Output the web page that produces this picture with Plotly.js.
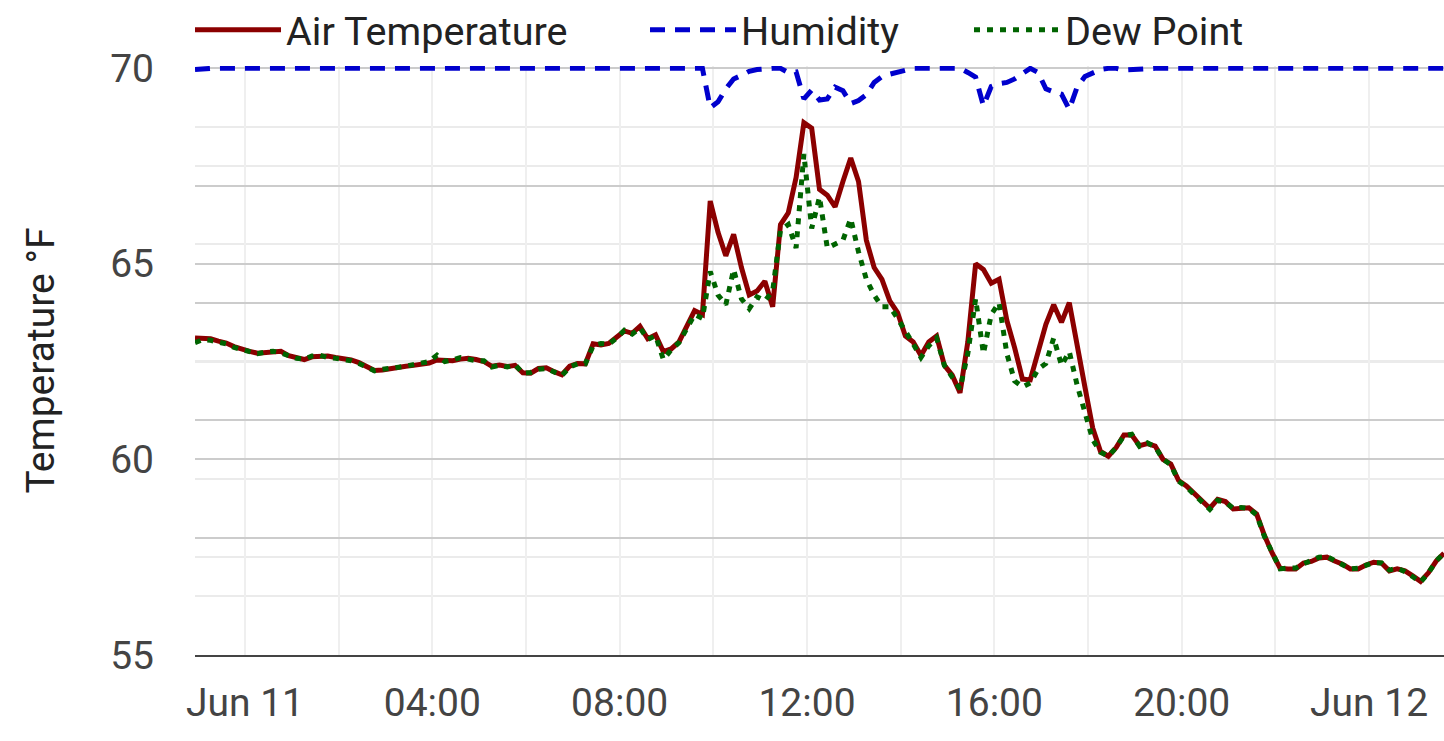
<!DOCTYPE html>
<html><head><meta charset="utf-8">
<script src="https://cdn.plot.ly/plotly-3.0.1.min.js"></script>
<style>html,body{margin:0;padding:0;background:#fff}#chart{width:1444px;height:741px}</style>
</head><body><div id="chart"></div>
<script>
const startTime = '2024-06-10T22:56:00Z';
const stepMinutes = 10;
const xRange = ['2024-06-10 22:56:00', '2024-06-12 01:36:00'];

const airTemp = [63.10,63.10,63.08,63.02,62.97,62.88,62.81,62.76,62.71,62.72,
 62.73,62.76,62.65,62.60,62.55,62.62,62.64,62.64,62.60,62.58,
 62.54,62.47,62.38,62.27,62.28,62.32,62.36,62.38,62.40,62.42,
 62.46,62.54,62.52,62.52,62.56,62.58,62.55,62.50,62.38,62.41,
 62.37,62.40,62.21,62.20,62.32,62.34,62.24,62.16,62.38,62.45,
 62.44,62.95,62.92,62.96,63.12,63.28,63.22,63.40,63.08,63.18,
 62.75,62.82,63.00,63.38,63.80,63.70,66.60,65.80,65.20,65.75,
 64.90,64.20,64.30,64.55,63.90,66.00,66.30,67.20,68.60,68.46,
 66.90,66.75,66.45,67.10,67.70,67.10,65.60,64.90,64.60,64.05,
 63.75,63.15,63.00,62.65,63.00,63.15,62.40,62.15,61.70,63.00,
 65.00,64.85,64.50,64.60,63.55,62.85,62.05,62.03,62.75,63.45,
 63.95,63.50,64.00,63.00,61.85,60.80,60.20,60.08,60.30,60.62,
 60.62,60.35,60.40,60.34,60.00,59.88,59.46,59.32,59.12,58.92,
 58.75,58.98,58.92,58.73,58.75,58.76,58.60,58.05,57.60,57.22,
 57.20,57.20,57.35,57.39,57.48,57.50,57.40,57.32,57.20,57.20,
 57.30,57.37,57.35,57.15,57.20,57.15,57.02,56.88,57.10,57.40,57.60];

const dewPoint = [62.98,63.06,63.04,63.00,62.95,62.86,62.80,62.74,62.70,62.74,
 62.76,62.72,62.64,62.58,62.56,62.64,62.66,62.60,62.58,62.56,
 62.52,62.45,62.36,62.26,62.30,62.34,62.35,62.38,62.42,62.44,
 62.50,62.66,62.50,62.54,62.60,62.56,62.52,62.52,62.36,62.40,
 62.36,62.42,62.20,62.22,62.30,62.32,62.22,62.14,62.36,62.44,
 62.44,62.90,62.96,62.94,63.10,63.30,63.20,63.36,63.06,63.16,
 62.55,62.80,62.98,63.34,63.70,63.60,64.80,64.20,63.95,64.85,
 64.10,63.85,64.15,64.05,64.30,65.85,66.00,65.40,67.80,65.90,
 66.70,65.40,65.50,65.60,66.15,65.30,64.60,64.20,63.90,63.90,
 63.60,63.30,62.95,62.60,62.90,63.10,62.40,62.10,61.80,62.70,
 64.10,62.70,63.70,64.00,62.70,62.00,61.85,61.95,62.30,62.45,
 63.10,62.40,62.75,61.90,61.20,60.50,60.18,60.08,60.30,60.60,
 60.64,60.33,60.42,60.32,60.00,59.86,59.44,59.30,59.10,58.90,
 58.72,58.95,58.90,58.75,58.77,58.74,58.58,58.03,57.58,57.20,
 57.22,57.22,57.33,57.40,57.50,57.52,57.41,57.30,57.20,57.22,
 57.30,57.36,57.35,57.17,57.22,57.13,57.00,56.86,57.10,57.40,57.60];

const humidity = [99.8,100,100,100,100,100,100,100,100,100,
 100,100,100,100,100,100,100,100,100,100,
 100,100,100,100,100,100,100,100,100,100,
 100,100,100,100,100,100,100,100,100,100,
 100,100,100,100,100,100,100,100,100,100,
 100,100,100,100,100,100,100,100,100,100,
 100,100,100,100,100,100,93.3,94.3,96.5,98.2,
 98.8,99.5,99.8,100,100,100,99.3,99.4,94.8,96.3,
 94.6,94.8,96.8,96.2,94.0,94.5,95.5,97.6,98.6,99.0,
 99.4,99.7,100,100,100,100,100,100,100,99.3,
 98.5,93.6,96.9,97.4,97.6,98.2,99.0,100,99.3,96.5,
 96.0,95.6,93.0,96.8,98.6,99.3,99.8,100,100,99.7,
 99.8,100,100,100,100,100,100,100,100,100,
 100,100,100,100,100,100,100,100,100,100,
 100,100,100,100,100,100,100,100,100,100,
 100,100,100,100,100,100,100,100,100,100,100];

const tickVals = ['2024-06-11 00:00','2024-06-11 02:00','2024-06-11 04:00','2024-06-11 06:00',
 '2024-06-11 08:00','2024-06-11 10:00','2024-06-11 12:00','2024-06-11 14:00',
 '2024-06-11 16:00','2024-06-11 18:00','2024-06-11 20:00','2024-06-11 22:00','2024-06-12 00:00'];
const tickText = ['Jun 11','','04:00','','08:00','','12:00','','16:00','','20:00','','Jun 12'];

const t0 = Date.parse(startTime);
const times = airTemp.map((_, i) =>
  new Date(t0 + i * stepMinutes * 60000).toISOString().slice(0, 19).replace('T', ' '));

const legendBase = {orientation:'h', y:1.061, yanchor:'middle', xanchor:'left',
  itemwidth:86, font:{family:'Roboto', size:39.6, color:'#222'}, bgcolor:'rgba(0,0,0,0)', borderwidth:0};

const traces = [
  {x:times, y:airTemp, name:'Air Temperature', type:'scatter', mode:'lines',
   line:{color:'#8b0000', width:5}, legend:'legend'},
  {x:times, y:humidity, name:'Humidity', type:'scatter', mode:'lines', yaxis:'y2',
   line:{color:'#0000cd', width:5, dash:'15px,10px'}, legend:'legend2'},
  {x:times, y:dewPoint, name:'Dew Point', type:'scatter', mode:'lines',
   line:{color:'#006400', width:5, dash:'6px,7px'}, legend:'legend3'}
];

const layout = {
  width:1444, height:741,
  margin:{l:195, r:0, t:66, b:86, pad:0, autoexpand:false},
  paper_bgcolor:'#ffffff', plot_bgcolor:'#ffffff',
  font:{family:'Roboto', size:39, color:'#444'},
  showlegend:true,
  legend:Object.assign({}, legendBase, {x:-0.004}),
  legend2:Object.assign({}, legendBase, {x:0.3603}),
  legend3:Object.assign({}, legendBase, {x:0.6197}),
  xaxis:{type:'date', range:xRange, tickmode:'array', tickvals:tickVals, ticktext:tickText,
    showgrid:true, gridcolor:'#efefef', gridwidth:2, showline:true, linecolor:'#444', linewidth:2,
    ticks:'', zeroline:false, tickfont:{size:39, color:'#444'}, ticklabelstandoff:12},
  yaxis:{range:[55,70.05], tickmode:'linear', tick0:55, dtick:5,
    showgrid:true, gridcolor:'#cccccc', gridwidth:2,
    minor:{tick0:55, dtick:2.5, showgrid:true, gridcolor:'#ebebeb', gridwidth:2},
    zeroline:false, showline:false, ticks:'', tickfont:{size:39, color:'#444'},
    ticklabelstandoff:40, automargin:true,
    title:{text:'Temperature °F', font:{size:39, color:'#222'}, standoff:43}},
  yaxis2:{overlaying:'y', side:'right', range:[0,100.4], tickmode:'linear', tick0:0, dtick:20,
    showticklabels:false, showgrid:true, gridcolor:'#cccccc', gridwidth:2,
    minor:{tick0:0, dtick:10, showgrid:true, gridcolor:'#ebebeb', gridwidth:2},
    zeroline:false, ticks:'', showline:false}
};

Plotly.newPlot('chart', traces, layout, {displayModeBar:false, responsive:false});
</script></body></html>
